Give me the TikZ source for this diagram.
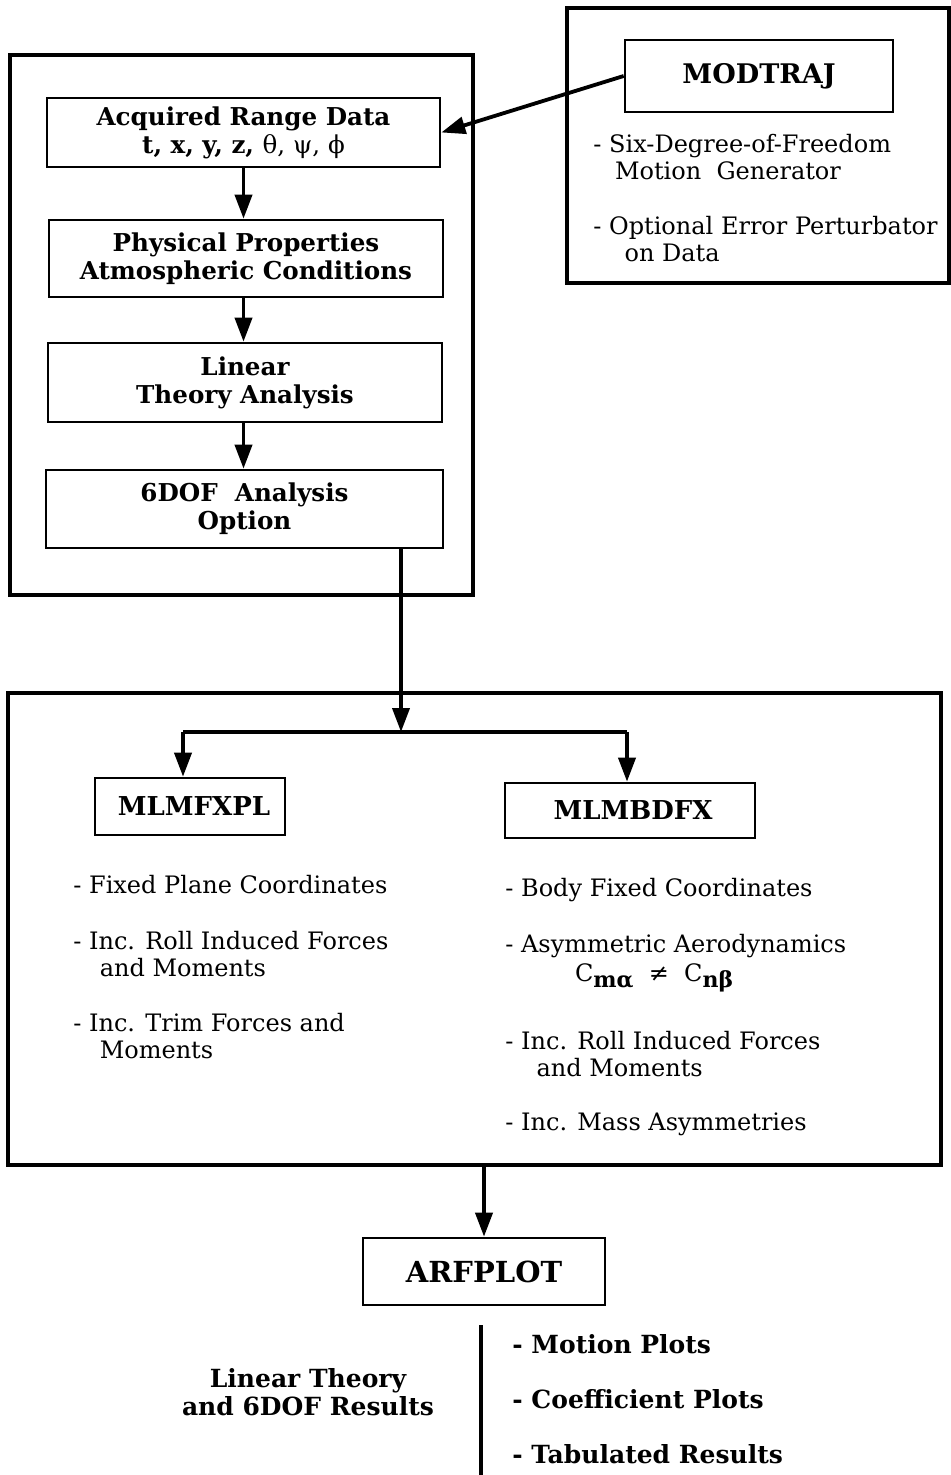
\documentclass[tikz,border=0pt]{standalone}
\usepackage{fontspec}
\setmainfont{DejaVu Serif}
\usetikzlibrary{arrows.meta,calc}
\newcommand{\subsc}[1]{\raisebox{-0.5ex}{\fontsize{11}{11}\selectfont\bfseries #1}}
\begin{document}
\begin{tikzpicture}[x=0.5pt,y=-0.5pt,
  outer/.style={draw,line width=2pt,inner sep=0pt},
  box/.style={draw,line width=1.3pt,inner sep=0pt,align=center,font=\fontsize{12.3}{14}\selectfont\bfseries},
  arr/.style={line width=1.9pt,-{Triangle[length=12pt,width=8.5pt]}},
  plain/.style={line width=1.9pt},
  txt/.style={inner sep=0pt,anchor=base west,align=left,font=\fontsize{12}{13.5}\selectfont},
  btxt/.style={inner sep=0pt,anchor=base west,align=left,font=\fontsize{12.5}{14}\selectfont\bfseries},
]
\useasboundingbox (0,0) rectangle (951,1475);
% upper left group
\node[outer,minimum width=231.5pt,minimum height=270pt] (o1) at (241.5,325) {};
\node[box,minimum width=196.5pt,minimum height=34.5pt] (acq) at (243.5,132.5)
  {Acquired Range Data\\t, x, y, z, {\mdseries θ, ψ, ϕ}};
\node[box,minimum width=197pt,minimum height=38.5pt] (phy) at (246,258.5)
  {Physical Properties\\Atmospheric Conditions};
\node[box,minimum width=197pt,minimum height=39.5pt] (lin) at (245,382.5)
  {Linear\\Theory Analysis};
\node[box,minimum width=198.5pt,minimum height=39pt] (dof) at (244.5,509)
  {6DOF\ \ Analysis\\Option};
\draw[arr] (acq.south) -- (acq.south |- phy.north);
\draw[arr] (acq.south |- phy.south) -- (acq.south |- lin.north);
\draw[arr] (acq.south |- lin.south) -- (acq.south |- dof.north);
% MODTRAJ group
\node[outer,minimum width=191pt,minimum height=137.5pt] (o2) at (757.5,145.5) {};
\node[box,font=\fontsize{13.5}{15}\selectfont\bfseries,minimum width=134pt,minimum height=36pt] (mod) at (759,76) {MODTRAJ};
\node[txt] (m1) at (593,180) {- Six-Degree-of-Freedom\\\hspace*{0.9em}Motion\ \ Generator};
\node[txt] (m2) at (593,262) {- Optional Error Perturbator\\\hspace*{1.3em}on Data};
\draw[arr] (mod.west) -- (acq.east);
% middle group
\node[outer,minimum width=466.5pt,minimum height=236pt] (o3) at (474.5,929) {};
\node[box,font=\fontsize{13}{15}\selectfont\bfseries,minimum width=95pt,minimum height=28.5pt] (mlf) at (190,806.5) {\hspace*{4pt}MLMFXPL};
\node[box,font=\fontsize{13}{15}\selectfont\bfseries,minimum width=125pt,minimum height=27.5pt] (mlb) at (630,810.5) {\hspace*{3pt}MLMBDFX};
\coordinate (j) at (401,732);
\coordinate (jl) at (183,732);
\coordinate (jr) at (627,732);
\draw[arr] (j |- dof.south) -- (j);
\draw[plain] (jl) -- (jr);
\draw[arr] (jl) -- (jl |- mlf.north);
\draw[arr] (jr) -- (jr |- mlb.north);
\node[txt] (l1) at (73,893) {- Fixed Plane Coordinates};
\node[txt] (l2) at (73,976) {- Inc. Roll Induced Forces\\\hspace*{1.1em}and Moments};
\node[txt] (l3) at (73,1058) {- Inc. Trim Forces and\\\hspace*{1.1em}Moments};
\node[txt] (r1) at (505,896) {- Body Fixed Coordinates};
\node[txt] (r2) at (505,981) {- Asymmetric Aerodynamics\\[1pt]\hspace*{2.9em}C\subsc{mα}\ \ ≠\ \ C\subsc{nβ}};
\node[txt] (r3) at (505,1076) {- Inc. Roll Induced Forces\\\hspace*{1.3em}and Moments};
\node[txt] (r4) at (505,1130) {- Inc. Mass Asymmetries};
% bottom
\node[box,font=\fontsize{14.5}{16}\selectfont\bfseries,minimum width=121pt,minimum height=33.5pt] (arf) at (484,1271.5) {ARFPLOT};
\draw[arr] (arf.north |- o3.south) -- (arf.north);
\coordinate (v1) at (481,1325);
\coordinate (v2) at (481,1475);
\draw[plain] (v1) -- (v2);
\node[btxt] (b1) at (512,1353) {- Motion Plots};
\node[btxt] (b2) at (512,1408) {- Coefficient Plots};
\node[btxt] (b3) at (512,1463) {- Tabulated Results};
\node[inner sep=0pt,align=center,font=\fontsize{12.5}{14}\selectfont\bfseries] (res) at (308,1392) {Linear Theory\\and 6DOF Results};
\end{tikzpicture}
\end{document}
